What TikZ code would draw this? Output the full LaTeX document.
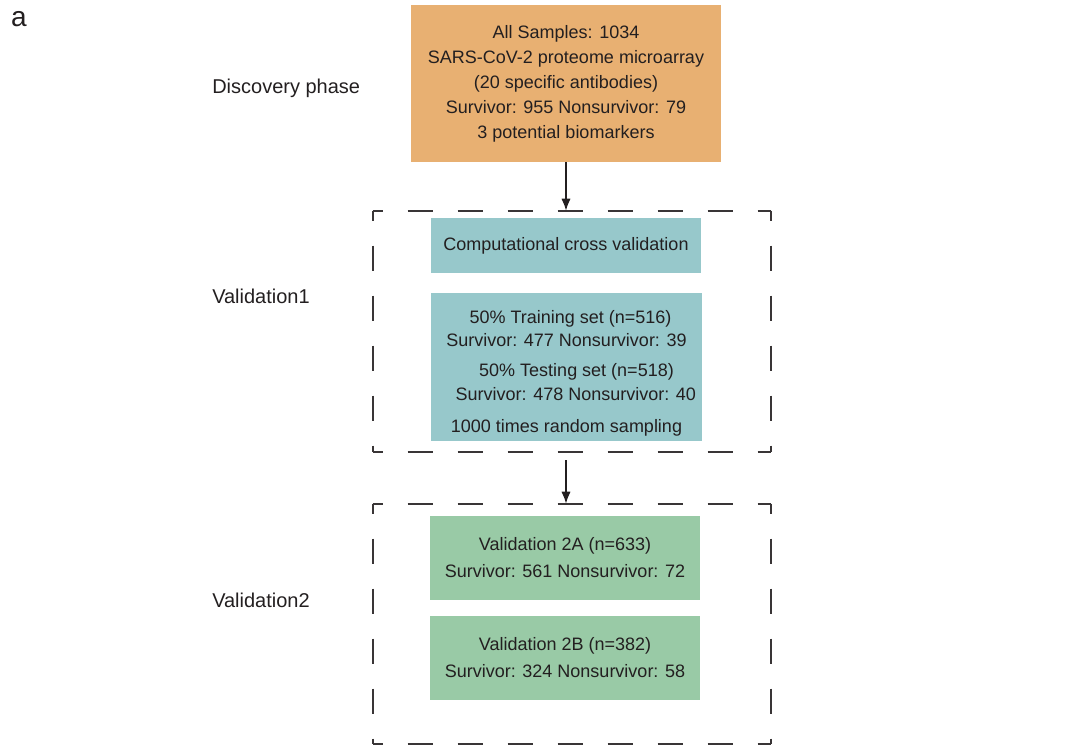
\documentclass[tikz,border=0pt]{standalone}
\usepackage{fontspec}
\setmainfont{Liberation Sans}
\usetikzlibrary{arrows.meta}
\definecolor{phaseorange}{HTML}{E8B072}
\definecolor{phaseteal}{HTML}{97C8CB}
\definecolor{phasegreen}{HTML}{99CAA6}
\definecolor{phaseink}{HTML}{231F20}
\tikzset{
  phasebox/.style={draw=none, align=center, inner sep=0pt, text=phaseink,
    font=\fontsize{13.5}{17.5}\selectfont},
  groupbox/.style={draw=none, inner sep=0pt},
  groupline/.style={draw=phaseink!90, line width=1.5pt,
    dash pattern=on 18.75pt off 18.75pt, dash phase=11.25pt},
  phaselabel/.style={anchor=west, inner sep=0pt, text=phaseink,
    font=\fontsize{15}{17}\selectfont},
  flow/.style={-{Latex[length=9pt,width=7pt]}, line width=1.3pt, phaseink}
}
\begin{document}
\begin{tikzpicture}[x=0.75pt, y=-0.75pt]
    \useasboundingbox (0,0) rectangle (1065,746);
    %% --- panel letter ---
    \node[text=phaseink, font=\fontsize{21}{24}\selectfont] (panel) at (19,19) {a};
    %% --- Discovery phase ---
    \node[phasebox, fill=phaseorange, minimum width=232.5pt, minimum height=117.75pt]
      (disc) at (566,83.5)
      {All Samples: 1034\\[1.25pt]
       SARS-CoV-2 proteome microarray\\[1.25pt]
       (20 specific antibodies)\\[1.25pt]
       Survivor: 955 Nonsurvivor: 79\\[1.25pt]
       3 potential biomarkers};
    \node[phaselabel] (disclab) at (212,88) {Discovery phase};
    %% --- Validation1 (dashed group) ---
    \node[groupbox, minimum width=298.5pt, minimum height=180.75pt] (val1) at (572,331.5) {};
    \node[phasebox, fill=phaseteal, minimum width=202.5pt, minimum height=41.25pt]
      (ccv) at (566,245.5) {Computational cross validation};
    \node[phasebox, fill=phaseteal, minimum width=203.25pt, minimum height=111pt]
      (split) at (566.5,367)
      {\rule{0pt}{19pt}\hspace*{6pt}50\% Training set (n=516)\\
       Survivor: 477 Nonsurvivor: 39\\[5pt]
       \hspace*{15pt}50\% Testing set (n=518)\\
       \hspace*{14pt}Survivor: 478 Nonsurvivor: 40\\[6.5pt]
       1000 times random sampling};
    \node[phaselabel] (val1lab) at (212,296) {Validation1};
    %% --- Validation2 (dashed group) ---
    \node[groupbox, minimum width=298.5pt, minimum height=180pt] (val2) at (572,624) {};
    \node[phasebox, fill=phasegreen, minimum width=202.5pt, minimum height=63pt]
      (vala) at (565,558)
      {Validation 2A (n=633)\\[2.75pt] Survivor: 561 Nonsurvivor: 72};
    \node[phasebox, fill=phasegreen, minimum width=202.5pt, minimum height=63pt]
      (valb) at (565,658)
      {Validation 2B (n=382)\\[2.75pt] Survivor: 324 Nonsurvivor: 58};
    \node[phaselabel] (val2lab) at (212,600) {Validation2};
    %% dashed frames, each side dashed from its own corner
    \foreach \g in {val1,val2}
      \foreach \a/\b in {north west/north east, north east/south east,
                         south west/south east, north west/south west}
        \draw[groupline] (\g.\a) -- (\g.\b);
    %% --- arrows between phases ---
    \draw[flow] (disc.south) -- (disc.south |- val1.north);
    \draw[flow, shorten <=6pt] (disc.south |- val1.south) -- (disc.south |- val2.north);
\end{tikzpicture}
\end{document}
